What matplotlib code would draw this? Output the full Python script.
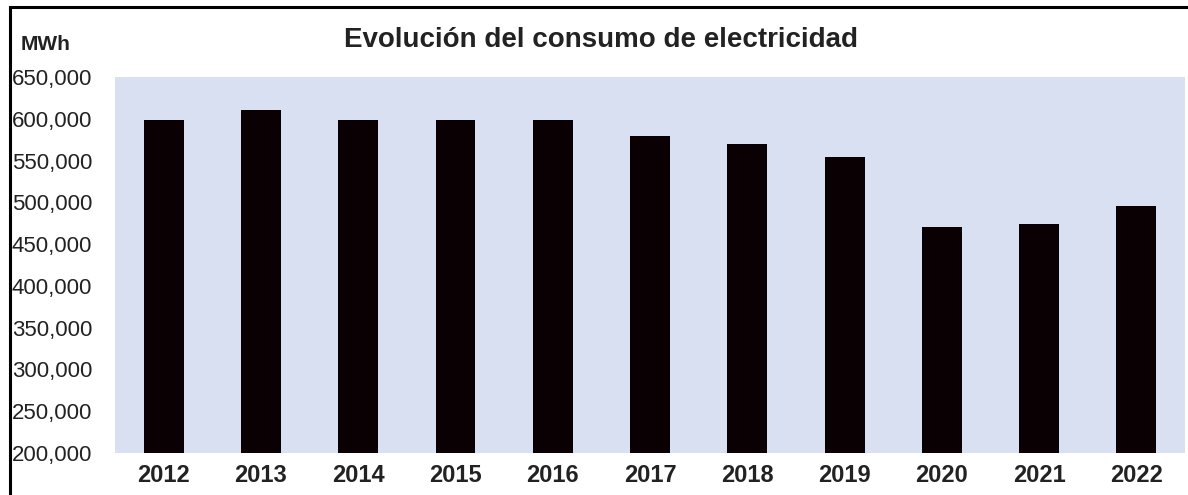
import matplotlib
matplotlib.use("Agg")
import matplotlib.pyplot as plt
from matplotlib.lines import Line2D
from matplotlib.ticker import FuncFormatter

years = ["2012", "2013", "2014", "2015", "2016", "2017", "2018", "2019", "2020", "2021", "2022"]
consumo_mwh = [598000, 611000, 599000, 599000, 599000, 579000, 570000, 554000, 470000, 474000, 496000]

plt.rcParams["font.family"] = ["Liberation Sans", "DejaVu Sans"]

fig = plt.figure(figsize=(11.88, 4.95), dpi=100)
ax = fig.add_axes([0.0968, 0.0848, 0.9007, 0.7596])

x = range(len(years))
ax.bar(x, consumo_mwh, width=0.41, color="#0a0003")

ax.set_facecolor("#d9e0f1")
ax.set_xlim(-0.5, len(years) - 0.5)
ax.set_ylim(200000, 650000)
ax.set_yticks(range(200000, 650001, 50000))
ax.yaxis.set_major_formatter(FuncFormatter(lambda v, _: f"{v:,.0f}"))
ax.set_xticks(list(x))
ax.set_xticklabels(years, fontweight="bold")

ax.tick_params(axis="y", length=0, pad=16.5, labelsize=16, labelcolor="#222222")
ax.tick_params(axis="x", length=0, pad=8, labelsize=17, labelcolor="#222222")
for spine in ax.spines.values():
    spine.set_visible(False)

fig.text(0.506, 0.905, "Evolución del consumo de electricidad", ha="center", va="baseline",
         fontsize=20, fontweight="bold", color="#222222")
fig.text(0.017, 0.899, "MWh", ha="left", va="baseline", fontsize=15, fontweight="bold",
         color="#222222")

# outer frame (top and left edges visible in the crop)
fig.add_artist(Line2D([0.0084, 1.0], [0.986, 0.986], transform=fig.transFigure,
                      color="black", linewidth=2.2))
fig.add_artist(Line2D([0.0084, 0.0084], [0.0, 0.986], transform=fig.transFigure,
                      color="black", linewidth=2.2))

fig.savefig("out.png", dpi=100)
